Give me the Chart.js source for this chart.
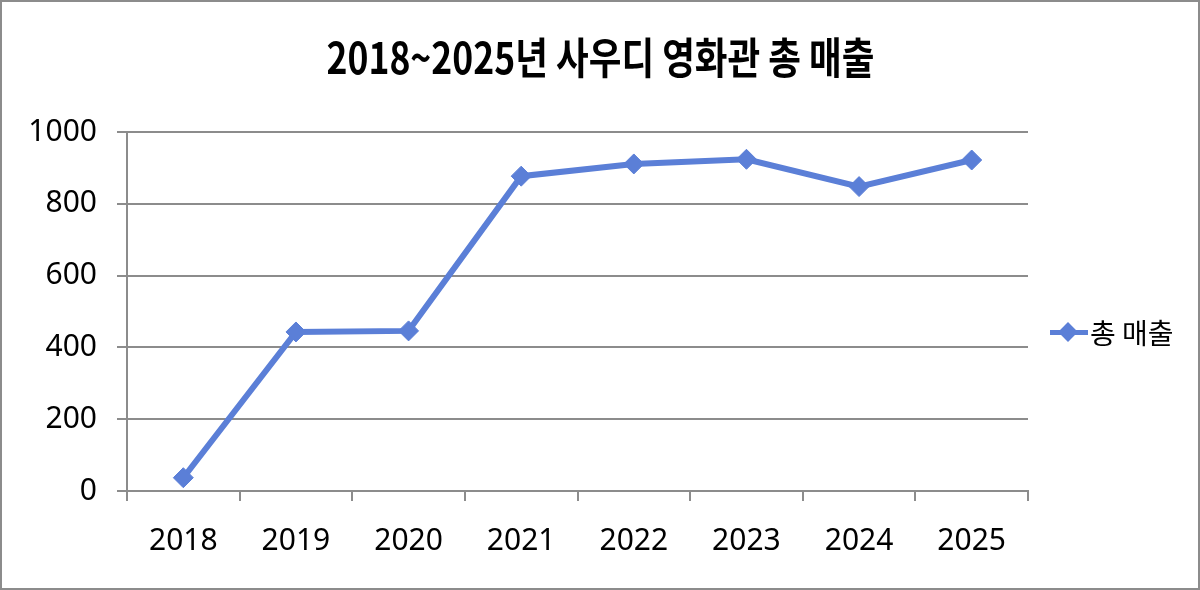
<!DOCTYPE html>
<html>
<head>
<meta charset="utf-8">
<script src="https://cdn.jsdelivr.net/npm/chart.js@4"></script>
<style>
  body { margin: 0; background: #fff; }
  #wrap { position: relative; width: 1200px; height: 590px; overflow: hidden; }
  #frame { position: absolute; left: 0; top: 0; width: 1200px; height: 590px; box-sizing: border-box;
           border: 2px solid #8c8c8c; pointer-events: none; }
  #title { position: absolute; left: 0; top: 30px; width: 1200px; text-align: center; white-space: nowrap;
           font-family: "Noto Sans CJK KR", "Noto Sans", sans-serif; font-weight: bold; font-size: 43px;
           line-height: 50px; color: #000; }
  #title span { display: inline-block; transform-origin: center; }
  #legend { position: absolute; left: 1050px; top: 314px; height: 36px; display: flex; align-items: center; }
  #legend .mark { position: relative; width: 38px; height: 36px; }
  #legend .mark .ln { position: absolute; left: 0; top: 16px; width: 38px; height: 5px; background: #5b7fd7; }
  #legend .mark .dm { position: absolute; left: 11px; top: 11px; width: 14px; height: 14px; background: #5b7fd7; transform: rotate(45deg); }
  #legend .txt { margin-left: 2px; font-family: "Noto Sans CJK KR", "Noto Sans", sans-serif; font-size: 28px; color: #000; }
</style>
</head>
<body>
<div id="wrap">
  <canvas id="myChart" width="1200" height="590"></canvas>
  <div id="title"><span id="titleText">2018~2025년 사우디 영화관 총 매출</span></div>
  <div id="legend"><div class="mark"><div class="ln"></div><div class="dm"></div></div><div class="txt">총 매출</div></div>
  <div id="frame"></div>
</div>
<script>
// data
const years = ['2018', '2019', '2020', '2021', '2022', '2023', '2024', '2025'];
const totalSales = [37, 443, 446, 877, 911, 924, 848, 922];
const yTicks = [0, 200, 400, 600, 800, 1000];
const seriesName = '총 매출';

const lineColor = '#5b7fd7';
const gridColor = '#8c8c8c';

// squeeze the title to the width seen in the picture
const tt = document.getElementById('titleText');
const w = tt.getBoundingClientRect().width;
tt.style.transform = 'scaleX(' + (548 / w) + ')';

const ctx = document.getElementById('myChart').getContext('2d');
new Chart(ctx, {
    type: 'line',
    data: {
        labels: years,
        datasets: [{
            label: seriesName,
            data: totalSales,
            borderColor: lineColor,
            backgroundColor: lineColor,
            borderWidth: 6,
            pointStyle: 'rectRot',
            pointRadius: 10,
            pointBorderWidth: 1,
            pointHoverRadius: 10,
            tension: 0
        }]
    },
    options: {
        responsive: false,
        animation: false,
        layout: { padding: { left: 0, right: 172, top: 132, bottom: 0 } },
        plugins: {
            legend: { display: false },
            title: { display: false },
            tooltip: { enabled: false }
        },
        scales: {
            x: {
                offset: true,
                grid: { offset: true, drawOnChartArea: false, drawTicks: true, tickLength: 10, color: gridColor, lineWidth: 2 },
                border: { color: gridColor, width: 2 },
                ticks: { color: '#000', padding: 22, font: { family: 'Noto Sans', size: 30 } },
                afterFit: scale => { scale.height = 99; }
            },
            y: {
                min: 0,
                max: 1000,
                afterBuildTicks: scale => { scale.ticks = yTicks.map(v => ({ value: v })); },
                grid: { color: gridColor, lineWidth: 2, tickLength: 10 },
                border: { color: gridColor, width: 2 },
                ticks: { color: '#000', padding: 20, font: { family: 'Noto Sans', size: 30 }, callback: v => String(v) },
                afterFit: scale => { scale.width = 127; }
            }
        }
    }
});
</script>
</body>
</html>
